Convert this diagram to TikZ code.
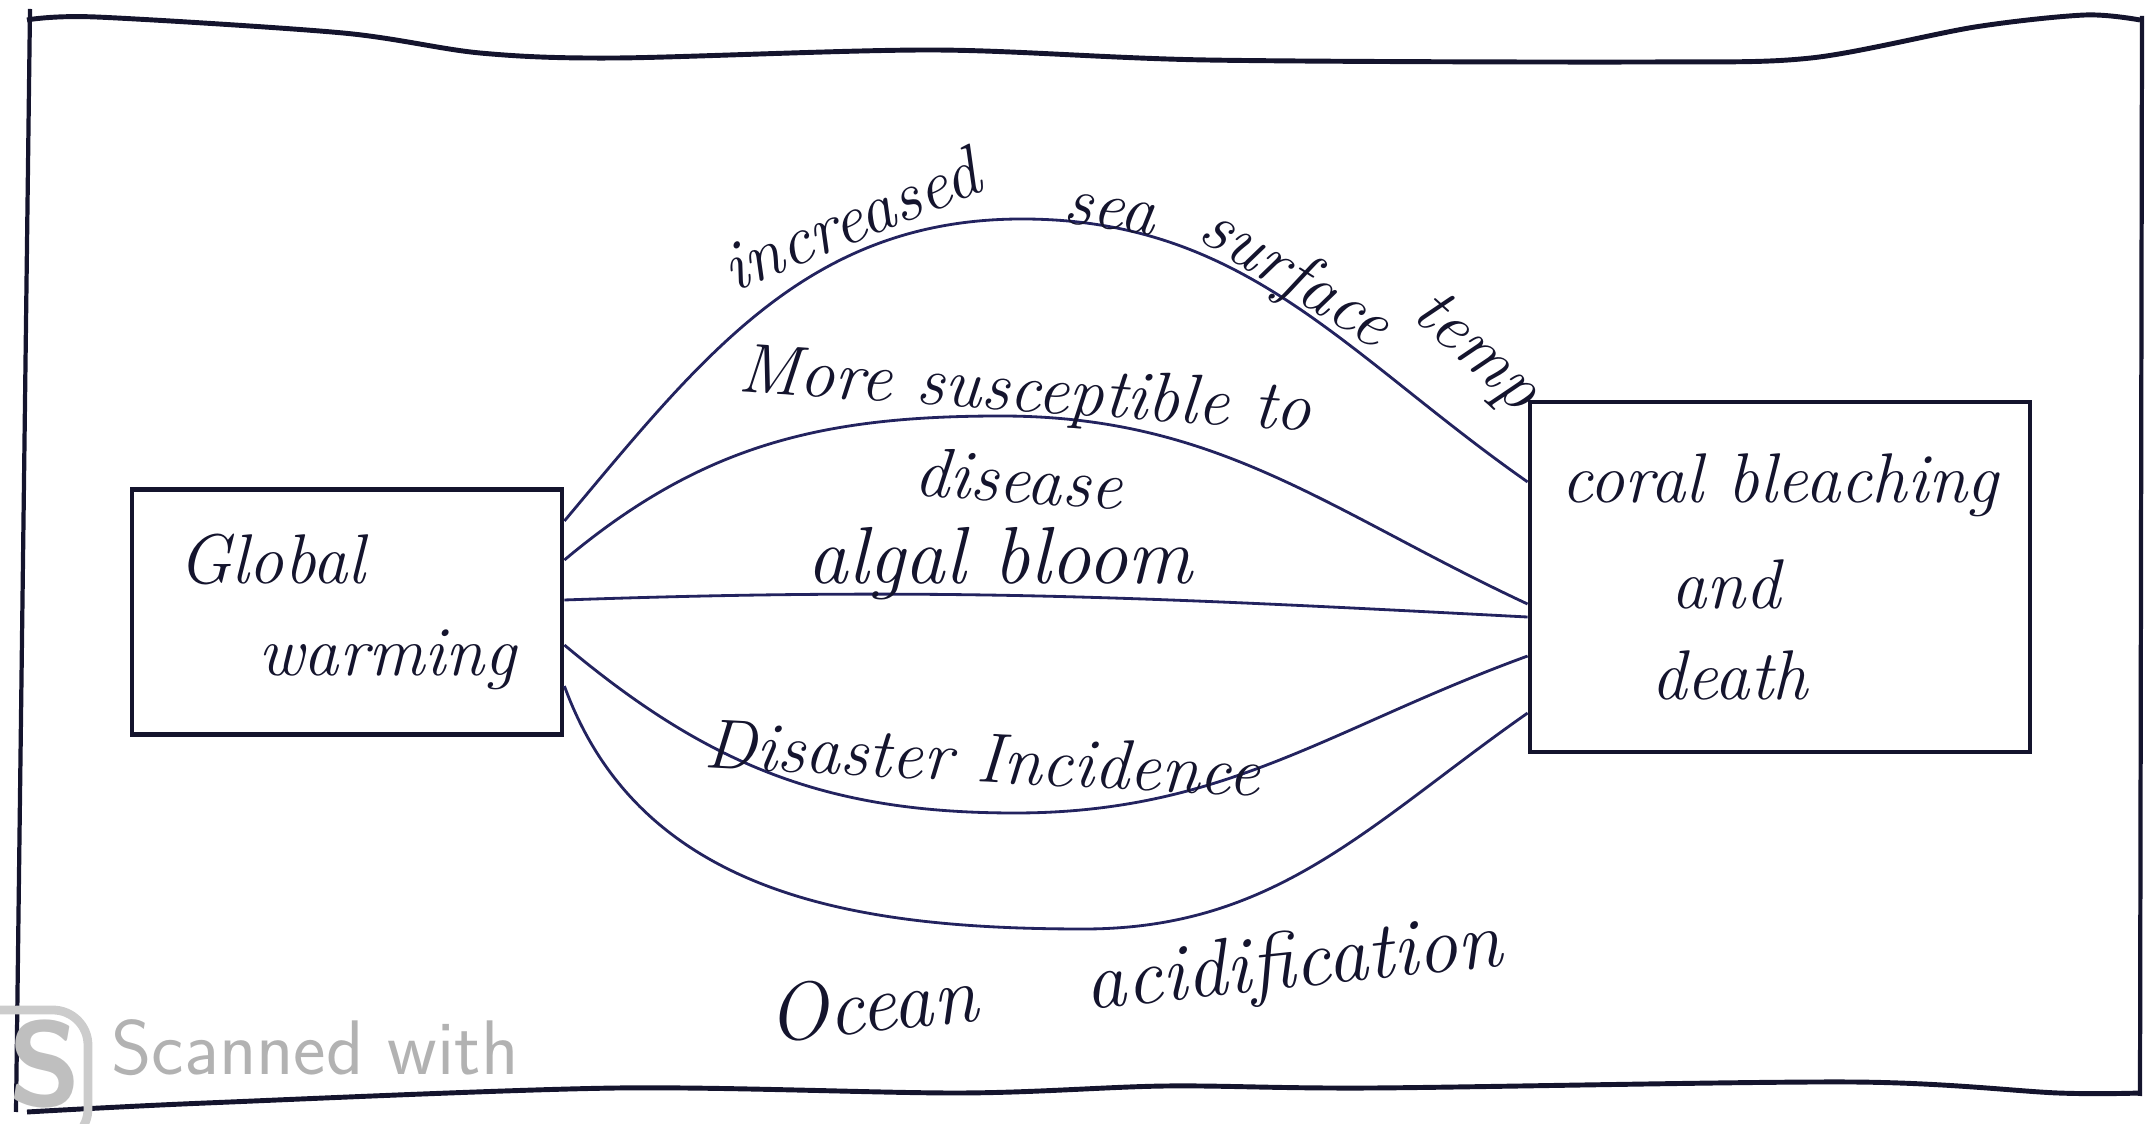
\documentclass[tikz,border=0pt]{standalone}
\definecolor{ink}{RGB}{35,35,95}
\definecolor{pen}{RGB}{20,20,45}
\newcommand{\hand}{\fontsize{20}{26}\selectfont\itshape}
\newcommand{\bighand}{\fontsize{23}{28}\selectfont\itshape}

\begin{document}
\begin{tikzpicture}[x=0.01cm,y=0.01cm,
    box/.style={draw=pen,line width=1.3pt,text=pen,font=\hand,inner sep=2pt},
    link/.style={draw=ink,line width=0.8pt},
    lbl/.style={text=pen,font=\hand}]
  \useasboundingbox (0,0) rectangle (2151,1124);

  % page frame
  \draw[pen,line width=1.4pt] plot[smooth] coordinates {(27,1104) (96,1107) (343,1091) (480,1071) (617,1066) (933,1074) (1207,1064) (1646,1062) (1811,1066) (1975,1097) (2085,1109) (2140,1104)};
  \draw[pen,line width=1.4pt] plot[smooth] coordinates {(2140,31) (2058,31) (1852,42) (1372,36) (1166,38) (960,31) (617,36) (206,21) (27,12)};
  \draw[pen,line width=1.2pt] (30,1115) -- (16,12);
  \draw[pen,line width=1.2pt] (2142,1108) -- (2140,28);

  % the two boxes
  \node[box,minimum width=4.3cm,minimum height=2.45cm,align=left] (gw) at (347,512) {Global\\\hspace*{0.8cm}warming};
  \node[box,minimum width=5cm,minimum height=3.5cm,align=left] (coral) at (1780,547)
    {coral bleaching\\[4pt]\hspace*{1.1cm}and\\\hspace*{0.9cm}death};

  % links
  \draw[link] ([yshift=0.91cm]gw.east) to[out=50,in=180] (1022,905) to[out=0,in=145] ([yshift=0.95cm]coral.west);
  \draw[link] ([yshift=0.52cm]gw.east) to[out=40,in=180] (1001,708) to[out=0,in=155] ([yshift=-0.27cm]coral.west);
  \draw[link] ([yshift=0.12cm]gw.east) to[out=2,in=177] ([yshift=-0.40cm]coral.west);
  \draw[link] ([yshift=-0.33cm]gw.east) to[out=-40,in=180] (1015,311) to[out=0,in=200] ([yshift=-0.79cm]coral.west);
  \draw[link] ([yshift=-0.74cm]gw.east) to[out=-70,in=180] (1084,195) to[out=0,in=215] ([yshift=-1.36cm]coral.west);

  % labels
  \node[lbl,rotate=22] (sst1) at (850,905) {increased};
  \node[lbl,rotate=-8] (sst2) at (1110,910) {sea};
  \node[lbl,rotate=-32] (sst3) at (1295,845) {surface};
  \node[lbl,rotate=-42] (sst4) at (1475,770) {temp};
  \node[lbl,align=center,rotate=-4] (sus) at (1022,691) {More susceptible to\\disease};
  \node[lbl,anchor=base,font=\bighand] (algal) at (1000,540) {algal bloom};
  \node[lbl,anchor=base,rotate=-3] (dis) at (981,342) {Disaster Incidence};
  \node[lbl,rotate=6,font=\bighand] (ocean) at (1135,140) {Ocean\quad\ acidification};

  % scanner stamp
  \draw[gray!40,line width=2.5pt,rounded corners=10pt] (-40,-20) rectangle (88,114);
  \node[gray!50,font=\fontsize{34}{34}\selectfont\sffamily\bfseries,inner sep=0pt] (s) at (45,60) {S};
  \node[gray!60,font=\fontsize{22}{26}\selectfont\sffamily] (scan) at (315,76) {Scanned with};
\end{tikzpicture}
\end{document}
